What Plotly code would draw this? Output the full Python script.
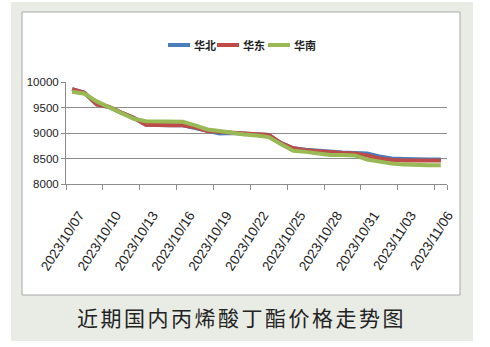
import plotly.graph_objects as go

# Daily dates (category axis)
dates = [
    "2023/10/07", "2023/10/08", "2023/10/09", "2023/10/10", "2023/10/11",
    "2023/10/12", "2023/10/13", "2023/10/14", "2023/10/15", "2023/10/16",
    "2023/10/17", "2023/10/18", "2023/10/19", "2023/10/20", "2023/10/21",
    "2023/10/22", "2023/10/23", "2023/10/24", "2023/10/25", "2023/10/26",
    "2023/10/27", "2023/10/28", "2023/10/29", "2023/10/30", "2023/10/31",
    "2023/11/01", "2023/11/02", "2023/11/03", "2023/11/04", "2023/11/05",
    "2023/11/06",
]

# Butyl acrylate prices by region (yuan/ton)
north = [9860, 9790, 9560, 9510, 9400, 9300, 9160, 9150, 9150, 9150,
         9100, 9030, 8990, 9000, 8990, 8975, 8960, 8800, 8700, 8670,
         8650, 8630, 8620, 8610, 8600, 8540, 8500, 8490, 8480, 8480, 8480]
east = [9860, 9790, 9560, 9510, 9400, 9300, 9160, 9150, 9150, 9150,
        9110, 9040, 9020, 9000, 8990, 8975, 8960, 8800, 8700, 8660,
        8640, 8620, 8610, 8600, 8560, 8500, 8470, 8460, 8460, 8460, 8460]
south = [9810, 9770, 9620, 9510, 9380, 9280, 9230, 9230, 9230, 9220,
         9150, 9070, 9040, 9000, 8970, 8950, 8920, 8780, 8650, 8630,
         8600, 8570, 8570, 8560, 8480, 8440, 8400, 8380, 8370, 8370, 8370]

series_names = ["华北", "华东", "华南"]
series_values = [north, east, south]
series_colors = ["#4a7ebb", "#be4b48", "#98b954"]

y_ticks = [8000, 8500, 9000, 9500, 10000]
y_tick_text = ["8000", "8500", "9000", "9500", "10000"]
caption = "近期国内丙烯酸丁酯价格走势图"

W, H = 490, 347
# plot-area edges in pixels
L, R, T, B = 66, 447, 82, 184


def px_x(px):
    return (px - L) / (R - L)


def px_y(py):
    return (B - py) / (B - T)


fig = go.Figure()
for name, vals, col in zip(series_names, series_values, series_colors):
    fig.add_trace(go.Scatter(
        x=dates, y=vals, name=name, mode="lines",
        line=dict(color=col, width=4), showlegend=False,
    ))

shapes = [
    # outer tinted panel
    dict(type="rect", xref="paper", yref="paper",
         x0=px_x(11), x1=px_x(473), y0=px_y(341), y1=px_y(2),
         fillcolor="#e8ece5", line=dict(width=0), layer="below"),
    # white chart box
    dict(type="rect", xref="paper", yref="paper",
         x0=px_x(22), x1=px_x(460), y0=px_y(295), y1=px_y(12),
         fillcolor="#ffffff", line=dict(color="#a8a8a8", width=1), layer="below"),
]

annotations = []
# legend built from series names/colours
leg_x = [168, 217, 268]
leg_y = 45
for name, col, lx in zip(series_names, series_colors, leg_x):
    shapes.append(dict(type="line", xref="paper", yref="paper",
                       x0=px_x(lx), x1=px_x(lx + 22), y0=px_y(leg_y), y1=px_y(leg_y),
                       line=dict(color=col, width=4)))
    annotations.append(dict(xref="paper", yref="paper", x=px_x(lx + 24), y=px_y(leg_y),
                            xanchor="left", yanchor="middle", showarrow=False,
                            text="<b>" + name + "</b>",
                            font=dict(family="Noto Sans CJK SC", size=11, color="#222222")))

annotations.append(dict(xref="paper", yref="paper", x=px_x(241), y=px_y(317),
                        xanchor="center", yanchor="middle", showarrow=False,
                        text='<span style="letter-spacing:2.5px">' + caption + "</span>",
                        font=dict(family="Noto Sans CJK SC", size=21, color="#222222")))

fig.update_layout(
    width=W, height=H,
    margin=dict(l=L, r=W - R, t=T, b=H - B, pad=0),
    paper_bgcolor="#ffffff",
    plot_bgcolor="rgba(0,0,0,0)",
    shapes=shapes,
    annotations=annotations,
    xaxis=dict(
        type="category", categoryorder="array", categoryarray=dates,
        range=[-0.5, len(dates) - 0.5],
        tickmode="array", tickvals=dates[::3], ticktext=dates[::3],
        tickson="boundaries", ticks="outside", ticklen=5, tickcolor="#8c8c8c",
        tickangle=-57, showgrid=False, showline=True, linecolor="#8c8c8c",
        linewidth=1, zeroline=False,
        ticklabelstandoff=17, ticklabelshift=7,
        tickfont=dict(family="Liberation Sans, Arial, sans-serif",
                      size=13.5, color="#222222"),
    ),
    yaxis=dict(
        range=[8000, 10000], tickvals=y_ticks, ticktext=y_tick_text,
        showgrid=True, gridcolor="#8c8c8c", gridwidth=1,
        ticks="outside", ticklen=4, tickcolor="#8c8c8c",
        showline=True, linecolor="#8c8c8c", linewidth=1, zeroline=False,
        tickfont=dict(family="Liberation Sans, Arial, sans-serif",
                      size=11.5, color="#222222"),
    ),
)

fig.write_html("out.html")
